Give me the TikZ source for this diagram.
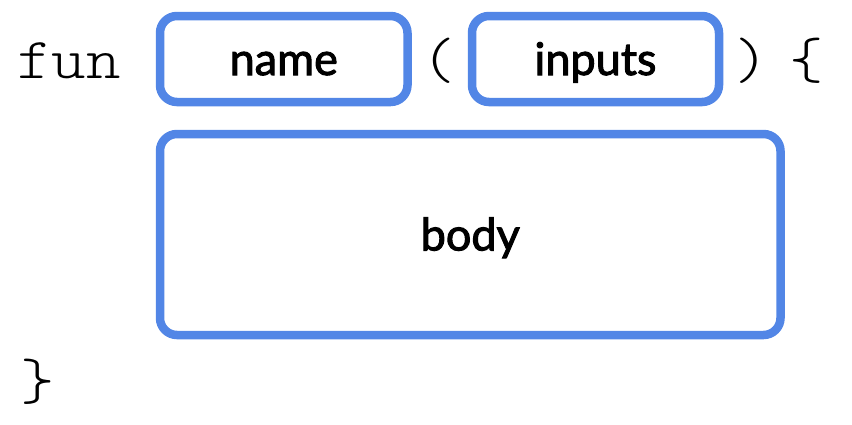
\documentclass[tikz,border=0pt]{standalone}
\usepackage{fontspec}
\setmainfont{Lato}
\newfontfamily\labelfont{Lato}[FakeBold=2.2]
\newfontfamily\codefont{lmmonolt10-regular.otf}[FakeStretch=1.13]
\definecolor{boxblue}{HTML}{5286E6}
\begin{document}
\begin{tikzpicture}[x=1pt,y=-1pt,
  box/.style={draw=boxblue, line width=8.5pt, rounded corners=17pt,
    inner sep=0pt, font=\labelfont\fontsize{45}{54}\selectfont,
    text height=32pt, text depth=0pt},
  code/.style={inner sep=0pt, anchor=base, font=\codefont\fontsize{58}{64}\selectfont}]
\useasboundingbox (0,0) rectangle (852,424);
\node[box, minimum width=247.5pt, minimum height=86pt] (name) at (283.75,59) {name};
\node[box, minimum width=247pt, minimum height=86pt] (inputs) at (595.5,59) {inputs};
\node[box, minimum width=620.5pt, minimum height=201pt] (body) at (470.25,234.5) {body};
\node[code, anchor=base west] (fun) at (17,78) {fun};
\node[code] (lparen) at (438.5,78) {(};
\node[code] (rparen) at (751.5,78) {)};
\node[code] (lbrace) at (806.5,78) {\{};
\node[code] (rbrace) at (37.5,399) {\}};
\end{tikzpicture}
\end{document}
